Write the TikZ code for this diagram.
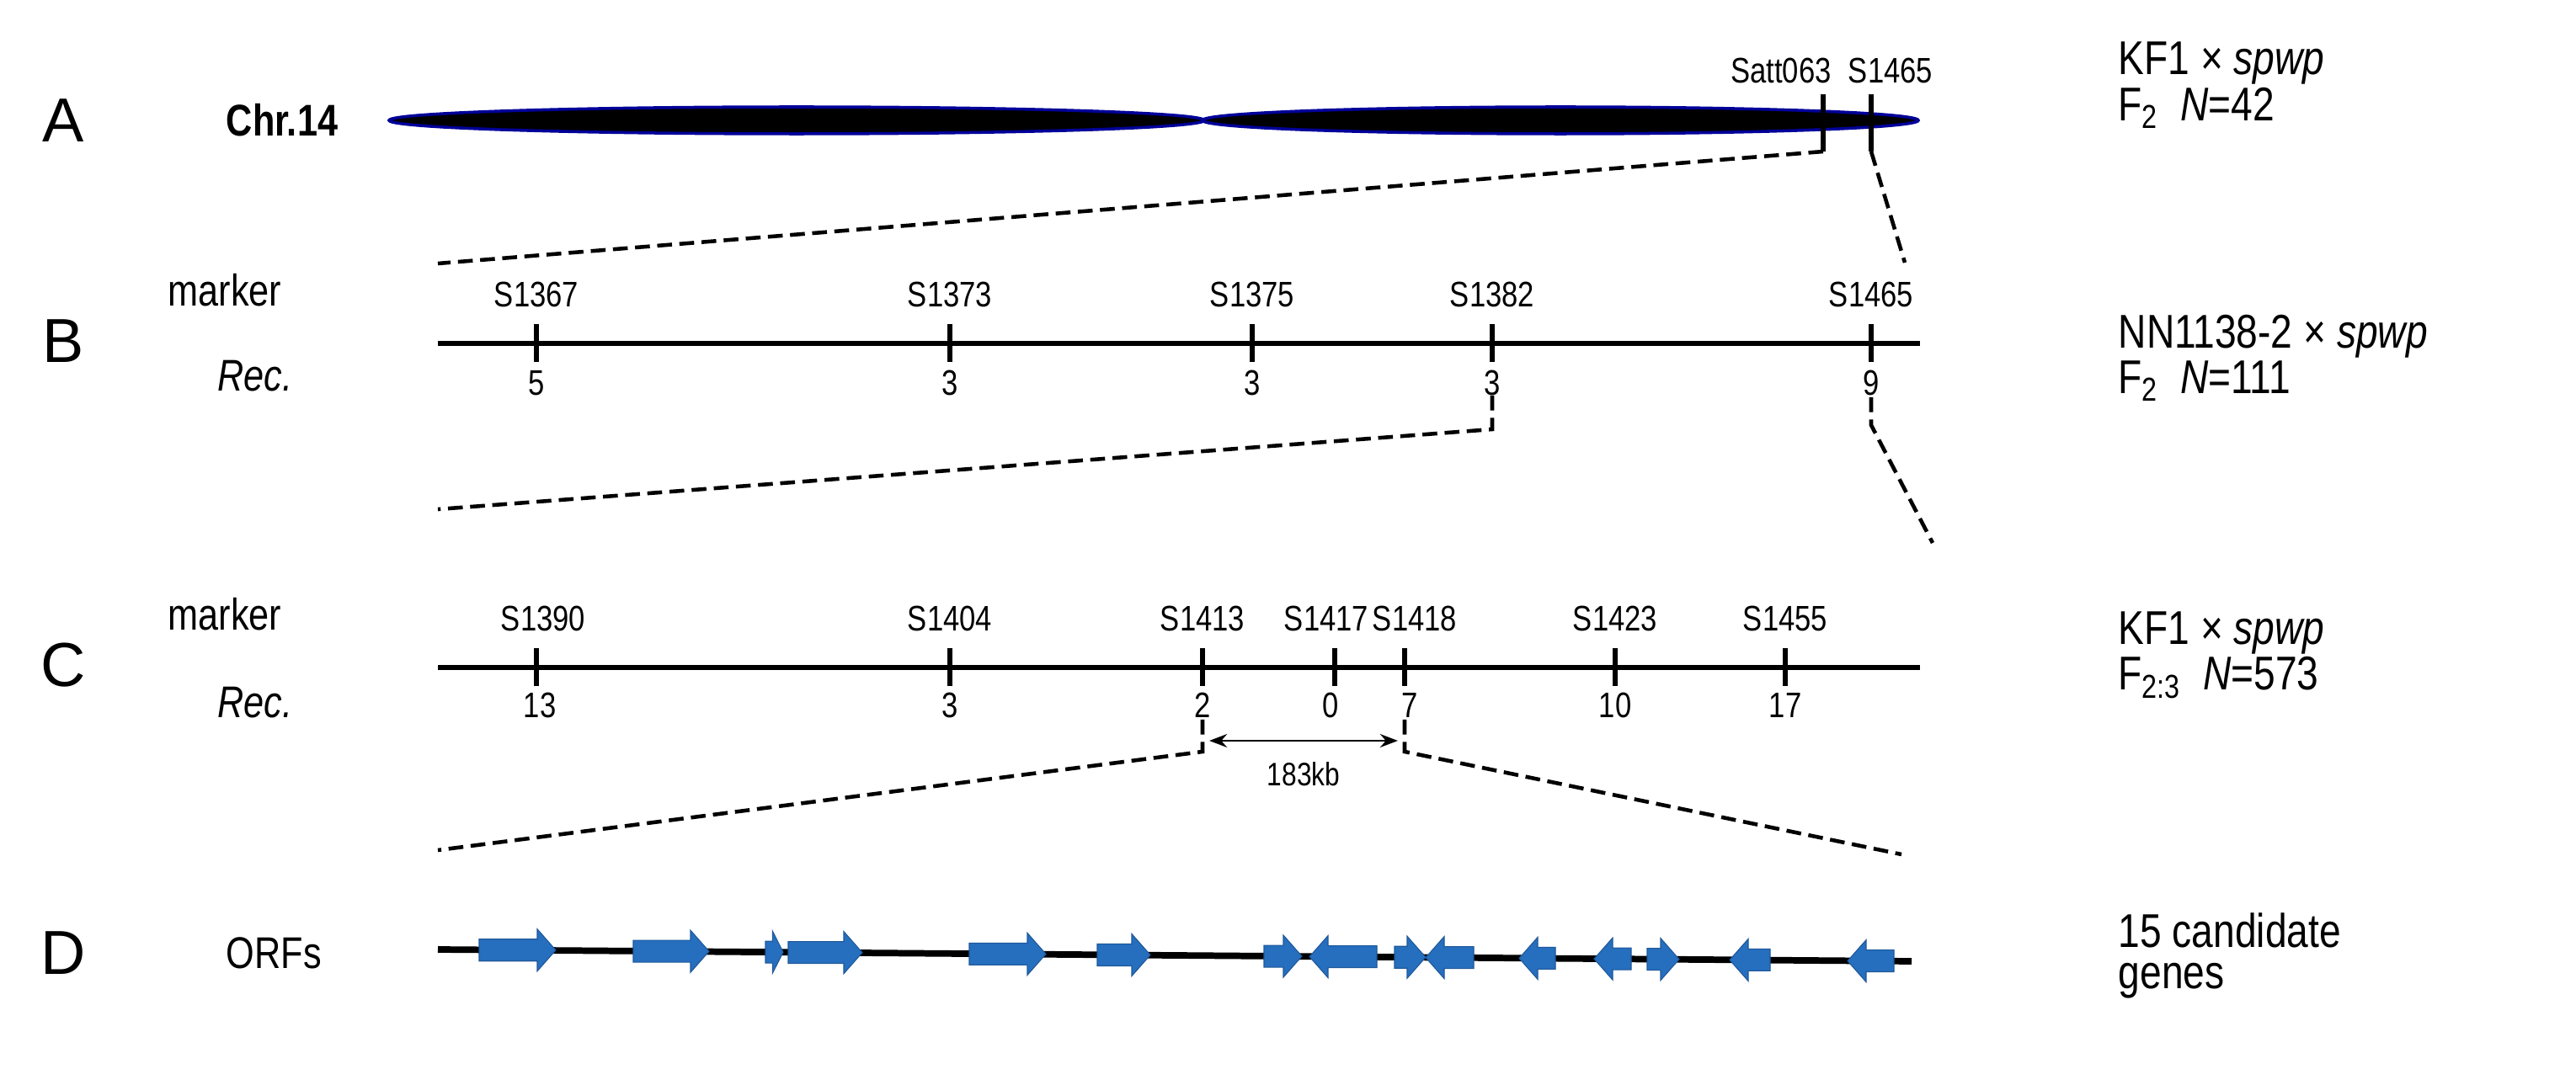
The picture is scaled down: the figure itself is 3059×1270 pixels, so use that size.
\documentclass[tikz,border=0pt]{standalone}
\usepackage{fontspec}
\setmainfont{Liberation Sans}
\newfontfamily\cond[FakeStretch=0.82]{Liberation Sans}
\usetikzlibrary{arrows.meta}
\definecolor{orfblue}{RGB}{38,110,190}
\begin{document}
\begin{tikzpicture}[x=0.01cm,y=-0.01cm,
  lbl/.style={font=\cond\fontsize{12}{14}\selectfont,inner sep=0pt},
  side/.style={font=\cond\fontsize{16}{19}\selectfont,anchor=west,inner sep=0pt},
  letter/.style={font=\fontsize{21}{24}\selectfont,inner sep=0pt},
  rowname/.style={font=\cond\fontsize{15}{18}\selectfont,inner sep=0pt},
  tick/.style={line width=1.6pt},
  axis/.style={line width=1.6pt},
  dsh/.style={line width=1.3pt,dash pattern=on 5pt off 2.5pt},
  orf/.style={fill=orfblue,draw=orfblue!80!black,line width=0.3pt}]
\useasboundingbox (0,0) rectangle (3059,1270);
% Row A
\node[letter] (LA) at (75,143) {A};
\node[rowname,font=\bfseries\cond\fontsize{15}{18}\selectfont] (chr) at (335,143) {Chr.14};
\fill[black,draw=blue!60!black,line width=1pt] (946,143) ellipse [x radius=484,y radius=16];
\fill[black,draw=blue!60!black,line width=1pt] (1853,143) ellipse [x radius=425,y radius=16];
\coordinate (sa) at (2165,112); \coordinate (sab) at (2165,180);
\coordinate (sb) at (2222,112); \coordinate (sbb) at (2222,180);
\draw[tick] (sa)--(sab); \draw[tick] (sb)--(sbb);
\node[lbl,anchor=south] (satt) at (2115,100) {Satt063};
\node[lbl,anchor=south] (s1465a) at (2245,100) {S1465};
\node[side] (a1) at (2515,75) {KF1 × \textit{spwp}};
\node[side] (a2) at (2515,128) {F\textsubscript{2}\ \ \textit{N}=42};
% Row B
\node[letter] (LB) at (75,405) {B};
\node[rowname,anchor=east] (mB) at (335,345) {marker};
\node[rowname,anchor=east,font=\itshape\cond\fontsize{15}{18}\selectfont] (rB) at (348,447) {Rec.};
\draw[axis] (520,408)--(2280,408);
\foreach \x/\n/\r in {637/S1367/5,1128/S1373/3,1487/S1375/3,1772/S1382/3,2222/S1465/9}{
  \draw[tick] (\x,385)--(\x,430);
  \node[lbl] at (\x,350) {\n};
  \node[lbl] at (\x,455) {\r};}
\node[side] (b1) at (2515,400) {NN1138-2 × \textit{spwp}};
\node[side] (b2) at (2515,453) {F\textsubscript{2}\ \ \textit{N}=111};
\coordinate (ba) at (520,313); \coordinate (bb) at (2262,312);
\draw[dsh] (sab)--(ba);
\draw[dsh] (sbb)--(bb);
% Row C
\node[letter] (LC) at (75,790) {C};
\node[rowname,anchor=east] (mC) at (335,730) {marker};
\node[rowname,anchor=east,font=\itshape\cond\fontsize{15}{18}\selectfont] (rC) at (348,835) {Rec.};
\draw[axis] (520,793)--(2280,793);
\foreach \x/\n/\r/\dx in {637/S1390/13/8,1128/S1404/3/0,1428/S1413/2/0,1585/S1417/0/-10,1668/S1418/7/12,1918/S1423/10/0,2120/S1455/17/0}{
  \draw[tick] (\x,770)--(\x,815);
  \node[lbl] at (\x+\dx,735) {\n};
  \node[lbl] at (\x+\dx*0.5,838) {\r};}
\node[side] (c1) at (2515,752) {KF1 × \textit{spwp}};
\node[side] (c2) at (2515,805) {F\textsubscript{2:3}\ \ \textit{N}=573};
\coordinate (c3t) at (1772,470); \coordinate (c3b) at (1772,510);
\coordinate (c9t) at (2222,472); \coordinate (c9b) at (2222,505);
\coordinate (ca) at (520,605); \coordinate (cb) at (2295,645);
\draw[dsh] (c3t)--(c3b)--(ca);
\draw[dsh] (c9t)--(c9b)--(cb);
% Row D
\node[letter] (LD) at (75,1132) {D};
\node[rowname,anchor=west] (orfs) at (268,1132) {ORFs};
\coordinate (d1t) at (1428,855); \coordinate (d1b) at (1428,893);
\coordinate (d2t) at (1668,855); \coordinate (d2b) at (1668,893);
\coordinate (da) at (520,1010); \coordinate (db) at (2258,1015);
\draw[dsh] (d1t)--(d1b)--(da);
\draw[dsh] (d2t)--(d2b)--(db);
\coordinate (k1) at (1436,880); \coordinate (k2) at (1660,880);
\draw[{Stealth[length=6pt]}-{Stealth[length=6pt]},line width=0.8pt] (k1)--(k2);
\node[lbl,font=\cond\fontsize{11}{13}\selectfont] (kb) at (1548,920) {183kb};
\draw[line width=2.2pt] (520,1128)--(2270,1142);
\foreach \a/\b/\d in {569/660/1,752/842/1,909/930/1,936/1024/1,1151/1242/1,1303/1366/1,1501/1546/1,1555/1635/-1,1656/1693/1,1693/1750/-1,1804/1847/-1,1893/1937/-1,1956/1994/1,2054/2102/-1,2194/2249/-1}{
  \pgfmathsetmacro\c{1128+((\a+\b)/2-520)/1750*14}
  \pgfmathsetmacro\hl{min(22,0.6*(\b-\a))}
  \ifnum\d=1
    \fill[orf] (\a,\c-13)--(\b-\hl,\c-13)--(\b-\hl,\c-25)--(\b,\c)--(\b-\hl,\c+25)--(\b-\hl,\c+13)--(\a,\c+13)--cycle;
  \else
    \fill[orf] (\b,\c-13)--(\a+\hl,\c-13)--(\a+\hl,\c-25)--(\a,\c)--(\a+\hl,\c+25)--(\a+\hl,\c+13)--(\b,\c+13)--cycle;
  \fi}
\node[side] (e1) at (2515,1105) {15 candidate};
\node[side] (e2) at (2515,1165) {genes};
\end{tikzpicture}
\end{document}
